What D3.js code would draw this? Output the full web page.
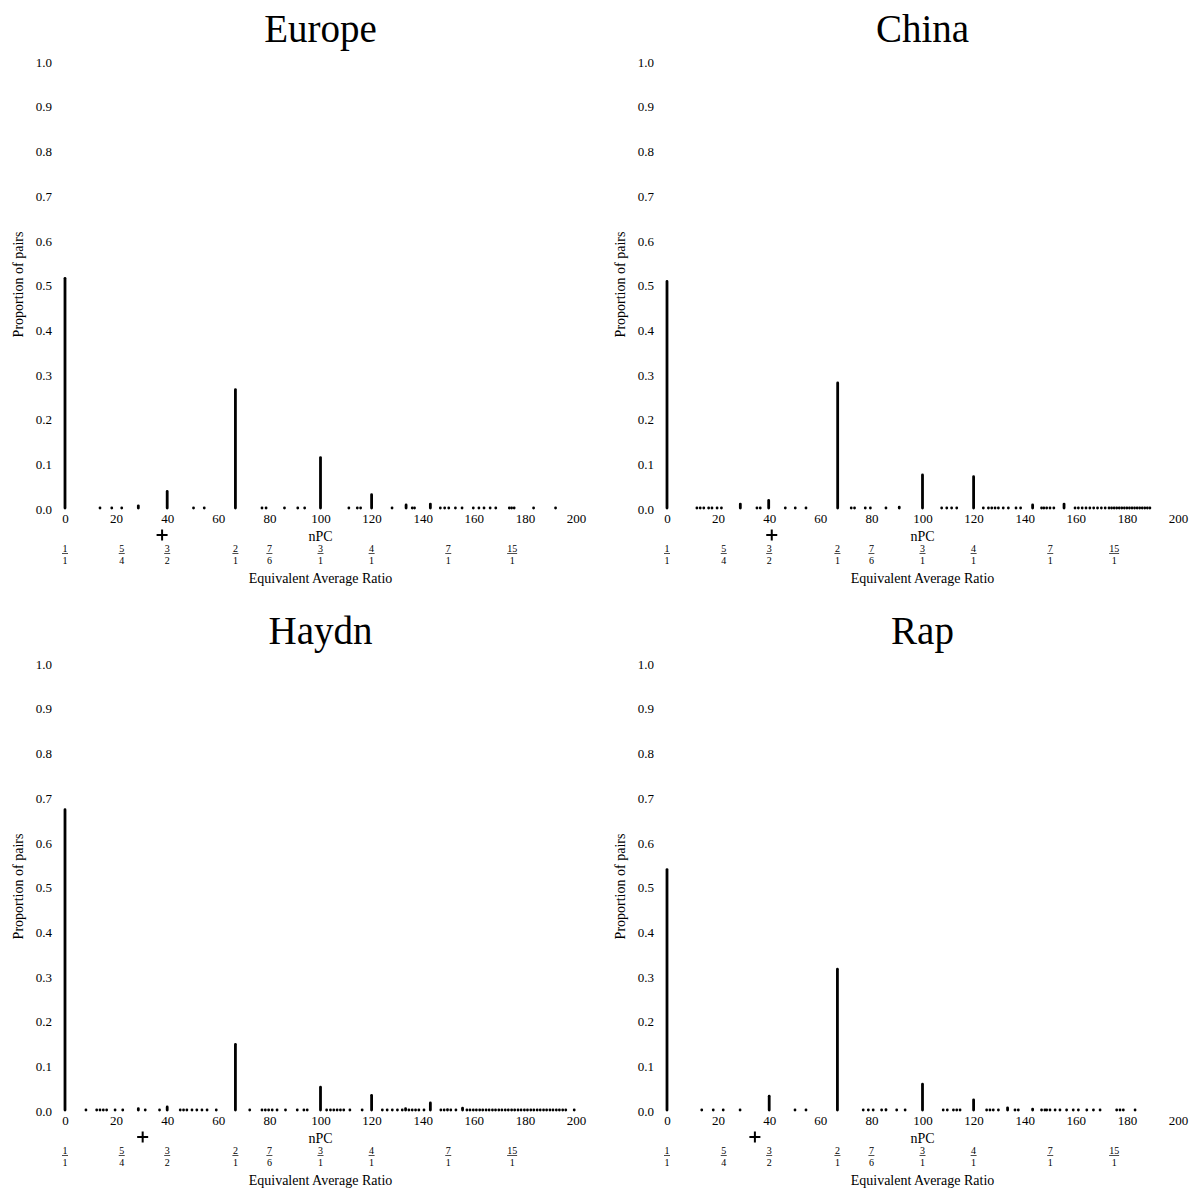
<!DOCTYPE html>
<html>
<head>
<meta charset="utf-8">
<script src="https://cdn.jsdelivr.net/npm/d3@7"></script>
<style>
  body { margin: 0; background: #fff; }
  text { font-family: "Liberation Serif", "Times New Roman", serif; fill: #000; }
</style>
</head>
<body>
<div id="chart"></div>
<script>
// ---- data ----
var regions = ["Europe", "China", "Haydn", "Rap"];

var europeNpc = [0, 13.7, 18.3, 22.2, 28.7, 40, 50.3, 54.5, 66.7, 77.1, 78.7, 85.9, 91.1, 93.8,
  100, 111.1, 114.4, 115.7, 120, 128, 133.5, 135.9, 136.8, 143, 146.9, 148.6, 150.2, 152.8, 155.4,
  159.8, 162, 164, 166.4, 168.6, 173.9, 174.8, 175.8, 183.4, 192];
var europeVal = [0.517, 0.002, 0.002, 0.002, 0.008, 0.040, 0.002, 0.002, 0.268, 0.002, 0.002, 0.002, 0.002, 0.002,
  0.116, 0.002, 0.002, 0.002, 0.033, 0.002, 0.010, 0.002, 0.002, 0.012, 0.002, 0.002, 0.002, 0.002, 0.002,
  0.002, 0.002, 0.002, 0.002, 0.002, 0.002, 0.002, 0.002, 0.002, 0.002];

var chinaNpc = [0, 11.7, 13, 14.4, 16.3, 17.6, 19.6, 21.3, 28.7, 35.2, 36.5, 39.8, 46.3, 50.2, 54.4,
  66.8, 72.1, 73.4, 77.6, 79.6, 85.7, 90.9, 100, 107.5, 109.5, 111.4, 113.4, 120, 123.8, 125.8, 127.1,
  128.4, 129.7, 131.6, 133.6, 136.6, 138.4, 143.1, 146.6, 147.5, 148.6, 149.9, 151.4, 155.4, 159.7, 161,
  162.5, 164, 165.5, 167, 168.5, 170, 171.5, 173, 174, 175, 176, 177, 178, 179, 180, 181, 182, 183, 184,
  185, 186, 187, 188, 189];
var chinaVal = [0.510, 0.002, 0.002, 0.002, 0.002, 0.002, 0.002, 0.002, 0.012, 0.002, 0.002, 0.020, 0.002, 0.002, 0.002,
  0.283, 0.002, 0.002, 0.002, 0.002, 0.002, 0.005, 0.077, 0.002, 0.002, 0.002, 0.002, 0.073, 0.002, 0.002, 0.002,
  0.002, 0.002, 0.002, 0.002, 0.002, 0.002, 0.010, 0.002, 0.002, 0.002, 0.002, 0.002, 0.012, 0.002, 0.002,
  0.002, 0.002, 0.002, 0.002, 0.002, 0.002, 0.002, 0.002, 0.002, 0.002, 0.002, 0.002, 0.002, 0.002, 0.002, 0.002, 0.002, 0.002, 0.002,
  0.002, 0.002, 0.002, 0.002, 0.002];

var haydnNpc = [0, 8.2, 12.4, 13.7, 15, 16.3, 19.6, 22.6, 28.7, 31.4, 37, 40, 45.1, 46.4, 47.7, 49.7,
  51.6, 53.6, 55.6, 59.2, 66.7, 72.3, 77.1, 78.4, 79.7, 81.1, 83, 86.3, 90.9, 93.5, 94.8, 100, 102.4,
  103.9, 105.2, 106.5, 107.8, 109.1, 111.5, 116.3, 120, 124.2, 126.1, 128.1, 130.1, 132, 133.3, 134.6,
  135.9, 137.2, 138.5, 140.5, 143, 147.1, 148.4, 149.7, 151, 153, 155.6, 157.3, 158.5, 159.8, 161, 162.3,
  163.5, 164.8, 166, 167.3, 168.5, 169.8, 171, 172.3, 173.5, 174.8, 176, 177.3, 178.5, 179.8, 181, 182.3,
  183.5, 184.8, 186, 187.3, 188.5, 189.8, 191, 192.3, 193.5, 194.8, 196, 199.3];
var haydnVal = [0.675, 0.002, 0.002, 0.002, 0.002, 0.002, 0.002, 0.002, 0.006, 0.002, 0.002, 0.010, 0.002, 0.002, 0.002, 0.002,
  0.002, 0.002, 0.002, 0.002, 0.150, 0.002, 0.002, 0.002, 0.002, 0.002, 0.002, 0.002, 0.002, 0.002, 0.002, 0.054, 0.002,
  0.002, 0.002, 0.002, 0.002, 0.002, 0.002, 0.002, 0.036, 0.002, 0.002, 0.002, 0.002, 0.002, 0.006, 0.002,
  0.002, 0.002, 0.002, 0.002, 0.019, 0.002, 0.002, 0.004, 0.002, 0.002, 0.007, 0.002, 0.002, 0.002, 0.002, 0.002,
  0.002, 0.002, 0.002, 0.002, 0.002, 0.002, 0.002, 0.002, 0.002, 0.002, 0.002, 0.002, 0.002, 0.002, 0.002, 0.002,
  0.002, 0.002, 0.002, 0.002, 0.002, 0.002, 0.002, 0.002, 0.002, 0.002, 0.002, 0.002];

var rapNpc = [0, 13.6, 18.1, 22, 28.6, 40, 50.1, 54.4, 66.7, 76.8, 78.8, 80.7, 84, 85.7, 89.9, 93.2,
  100, 108.1, 109.7, 112.1, 113.4, 114.7, 120, 125.1, 126.4, 127.7, 129.7, 133.3, 136.2, 137.5, 143.1,
  146.6, 147.9, 148.6, 149.9, 151.9, 153.8, 156.4, 159, 161, 164.3, 166.9, 169.5, 176, 177.3, 178.6, 183.2];
var rapVal = [0.541, 0.002, 0.002, 0.002, 0.003, 0.034, 0.002, 0.002, 0.318, 0.002, 0.002, 0.002, 0.002, 0.004, 0.002, 0.002,
  0.061, 0.002, 0.002, 0.002, 0.002, 0.002, 0.026, 0.002, 0.002, 0.002, 0.002, 0.008, 0.002, 0.002, 0.005,
  0.002, 0.002, 0.002, 0.002, 0.002, 0.002, 0.002, 0.002, 0.002, 0.002, 0.002, 0.002, 0.002, 0.002, 0.002, 0.002];

// mean nPC marker ("+") per region
var meanNpc = [38, 41, 30.4, 34.4];

var xTicks = [0, 20, 40, 60, 80, 100, 120, 140, 160, 180, 200];
var yTicks = [0, 0.1, 0.2, 0.3, 0.4, 0.5, 0.6, 0.7, 0.8, 0.9, 1.0];

// equivalent ratio labels under the nPC axis
var ratioPos = [0, 22.2, 40, 66.7, 80, 100, 120, 150, 175];
var ratioNum = ["1", "5", "3", "2", "7", "3", "4", "7", "15"];
var ratioDen = ["1", "4", "2", "1", "6", "1", "1", "1", "1"];

var npcs = [europeNpc, chinaNpc, haydnNpc, rapNpc];
var vals = [europeVal, chinaVal, haydnVal, rapVal];

var width = 1192, height = 1189;
var stemW = 2.8;

var svg = d3.select("#chart").append("svg")
  .attr("width", width)
  .attr("height", height);

var x = d3.scaleLinear().domain([0, 200]).range([65, 576]);
var y = d3.scaleLinear().domain([0, 1]).range([508, 61]);

regions.forEach(function(name, i) {
  var ox = (i % 2) * 602, oy = Math.floor(i / 2) * 602;
  var g = svg.append("g").attr("transform", "translate(" + ox + "," + oy + ")");

  var data = npcs[i].map(function(d, k) { return {npc: d, v: vals[i][k]}; });

  // title
  g.append("text")
    .attr("x", (x(0) + x(200)) / 2)
    .attr("y", 42)
    .attr("text-anchor", "middle")
    .style("font-size", "39px")
    .text(name);

  // y axis (labels only)
  var yAxis = d3.axisLeft(y).tickValues(yTicks).tickSize(0).tickPadding(13).tickFormat(d3.format(".1f"));
  var ya = g.append("g").attr("transform", "translate(" + x(0) + ",0)").call(yAxis);
  ya.select(".domain").remove();
  ya.selectAll("text").style("font-size", "13px").attr("dy", "0.4em");

  // x axis (labels only)
  var xAxis = d3.axisBottom(x).tickValues(xTicks).tickSize(0).tickPadding(6);
  var xa = g.append("g").attr("transform", "translate(0," + y(0) + ")").call(xAxis);
  xa.select(".domain").remove();
  xa.selectAll("text").style("font-size", "13px");

  // y label
  g.append("text")
    .attr("transform", "rotate(-90)")
    .attr("x", -(y(0) + y(1)) / 2)
    .attr("y", 23)
    .attr("text-anchor", "middle")
    .style("font-size", "14px")
    .text("Proportion of pairs");

  // x label
  g.append("text")
    .attr("x", (x(0) + x(200)) / 2)
    .attr("y", 540.5)
    .attr("text-anchor", "middle")
    .style("font-size", "14px")
    .text("nPC");

  // stems (round caps; top kept at the value)
  g.selectAll(".stem")
    .data(data)
    .enter().append("line")
    .attr("class", "stem")
    .attr("x1", function(d) { return x(d.npc); })
    .attr("x2", function(d) { return x(d.npc); })
    .attr("y1", y(0))
    .attr("y2", function(d) { return Math.min(y(d.v) + stemW / 2, y(0)); })
    .attr("stroke", "#000")
    .attr("stroke-width", stemW)
    .attr("stroke-linecap", "round");

  // mean marker
  var mx = x(meanNpc[i]), my = 535;
  g.append("path")
    .attr("d", "M" + (mx - 5.5) + "," + my + "H" + (mx + 5.5) + "M" + mx + "," + (my - 5.5) + "V" + (my + 5.5))
    .attr("stroke", "#000")
    .attr("stroke-width", 2)
    .attr("fill", "none");

  // ratio fractions
  var fr = g.selectAll(".frac")
    .data(ratioPos)
    .enter().append("g")
    .attr("class", "frac")
    .attr("transform", function(d) { return "translate(" + x(d) + ",0)"; });
  fr.append("text")
    .attr("y", 551.5)
    .attr("text-anchor", "middle")
    .style("font-size", "10px")
    .text(function(d, k) { return ratioNum[k]; });
  fr.append("line")
    .attr("x1", function(d, k) { return ratioNum[k].length > 1 ? -5 : -3; })
    .attr("x2", function(d, k) { return ratioNum[k].length > 1 ? 5 : 3; })
    .attr("y1", 553.5).attr("y2", 553.5)
    .attr("stroke", "#000")
    .attr("stroke-width", 0.7);
  fr.append("text")
    .attr("y", 563.5)
    .attr("text-anchor", "middle")
    .style("font-size", "10px")
    .text(function(d, k) { return ratioDen[k]; });

  g.append("text")
    .attr("x", (x(0) + x(200)) / 2)
    .attr("y", 582.5)
    .attr("text-anchor", "middle")
    .style("font-size", "14px")
    .text("Equivalent Average Ratio");
});
</script>
</body>
</html>
